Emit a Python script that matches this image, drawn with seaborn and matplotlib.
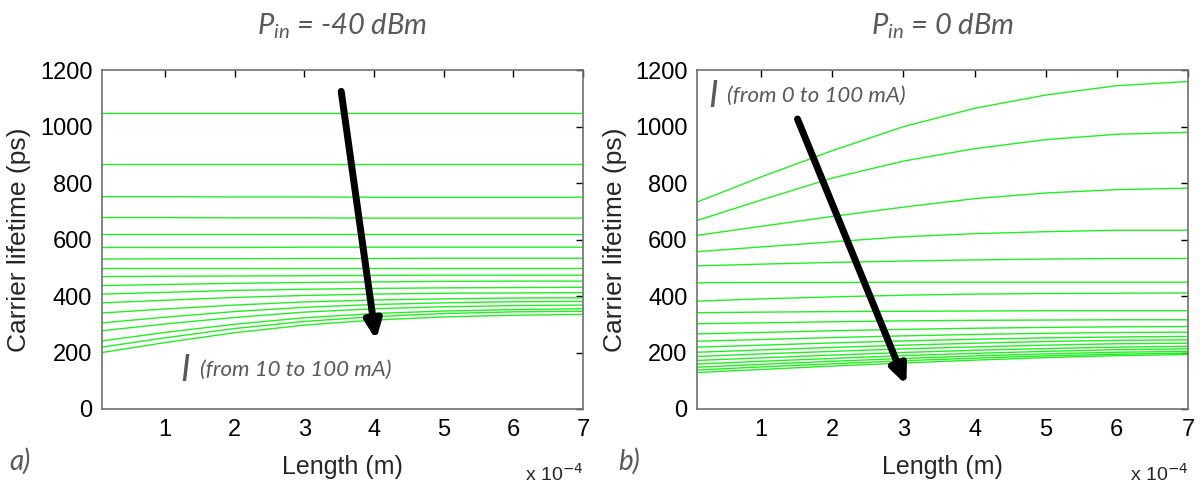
import numpy as np
import pandas as pd
import seaborn as sns
import matplotlib
matplotlib.use("Agg")
import matplotlib.pyplot as plt

# Length axis (in units of 1e-4 m)
length = [0.1, 1, 2, 3, 4, 5, 6, 7]

# Carrier lifetime (ps), P_in = -40 dBm, I from 10 to 100 mA
tau_low = [
    [1047, 1047, 1047, 1047, 1047, 1047, 1047, 1047],
    [867, 867, 867, 867, 867, 867, 867, 867],
    [752, 752, 751, 751, 750, 750, 750, 750],
    [678, 678, 677, 677, 676, 676, 676, 676],
    [618, 618, 618, 618, 618, 618, 618, 618],
    [572, 572, 572, 573, 573, 573, 573, 573],
    [531, 532, 532, 533, 533, 534, 534, 534],
    [500, 500, 500, 500, 500, 500, 500, 500],
    [469, 470, 471, 472, 473, 474, 474, 474],
    [437, 441, 445, 448, 450, 452, 453, 453],
    [407, 413, 420, 424, 427, 429, 430, 431],
    [376, 385, 395, 402, 407, 410, 411, 412],
    [340, 354, 368, 379, 386, 390, 393, 394],
    [305, 325, 345, 360, 370, 376, 380, 381],
    [277, 301, 324, 343, 355, 362, 366, 368],
    [241, 271, 300, 323, 338, 347, 352, 355],
    [219, 252, 285, 310, 327, 338, 344, 346],
    [200, 235, 270, 297, 315, 326, 332, 335],
]

# Carrier lifetime (ps), P_in = 0 dBm, I from 0 to 100 mA
tau_high = [
    [733, 822, 915, 1000, 1065, 1112, 1145, 1160],
    [668, 740, 818, 878, 922, 954, 973, 980],
    [615, 647, 682, 715, 745, 765, 777, 782],
    [557, 574, 592, 610, 621, 628, 633, 633],
    [507, 513, 519, 524, 528, 531, 533, 533],
    [447, 448, 448, 449, 449, 449, 449, 449],
    [382, 390, 397, 403, 407, 409, 410, 411],
    [341, 343, 345, 346, 347, 348, 348, 348],
    [302, 305, 309, 312, 314, 315, 316, 316],
    [266, 271, 277, 282, 286, 289, 291, 292],
    [240, 246, 253, 259, 264, 268, 271, 272],
    [219, 226, 234, 241, 247, 252, 255, 257],
    [201, 209, 218, 226, 233, 239, 243, 245],
    [186, 195, 204, 213, 220, 226, 231, 233],
    [172, 181, 191, 200, 208, 214, 219, 222],
    [159, 169, 179, 189, 197, 204, 210, 213],
    [148, 158, 169, 179, 188, 195, 201, 204],
    [138, 149, 160, 171, 180, 188, 194, 198],
    [129, 140, 152, 163, 173, 182, 189, 193],
]

titles = ["-40 dBm", "0 dBm"]
notes = ["(from 10 to 100 mA)", "(from 0 to 100 mA)"]
panel_tags = ["a)", "b)"]


def to_frame(curves):
    rows = []
    for i, c in enumerate(curves):
        for x, y in zip(length, c):
            rows.append({"length": x, "tau": y, "line": i})
    return pd.DataFrame(rows)


sns.set_theme(style="white")
plt.rcParams["font.family"] = ["Liberation Sans", "DejaVu Sans"]
plt.rcParams["mathtext.fontset"] = "custom"
plt.rcParams["mathtext.rm"] = "Lato"
plt.rcParams["mathtext.it"] = "Lato:italic"

fig = plt.figure(figsize=(12, 4.84), dpi=100)
ax1 = fig.add_axes([0.085, 0.155, 0.401, 0.700])
ax2 = fig.add_axes([0.581, 0.155, 0.409, 0.700])

gray = "#595959"
note_font = ["Lato"]

for ax, curves, title, note, tag in zip([ax1, ax2], [tau_low, tau_high], titles, notes, panel_tags):
    sns.lineplot(data=to_frame(curves), x="length", y="tau", units="line",
                 estimator=None, color="#22ee22", linewidth=1.0, ax=ax)
    ax.set_xlim(0.1, 7)
    ax.set_ylim(0, 1200)
    ax.set_xticks(range(1, 8))
    ax.set_yticks(range(0, 1201, 200))
    ax.tick_params(direction="in", length=5, width=1, top=True, right=True,
                   labelsize=17, pad=7, colors="black")
    for s in ax.spines.values():
        s.set_color("#707070")
        s.set_linewidth(1.2)
        s.set_visible(True)
    ax.set_xlabel("Length (m)", fontsize=18, labelpad=10)
    ax.set_ylabel("Carrier lifetime (ps)", fontsize=19, labelpad=6)
    ax.set_title(r"$P_{in}$ = " + title, fontsize=21, color=gray, style="italic",
                 family=note_font, pad=26)
    ax.text(1.0, -0.19, r"x 10$^{-4}$", transform=ax.transAxes, ha="right",
            va="center", fontsize=14, family=["Liberation Sans"],
            math_fontfamily="dejavusans")

# annotation text and arrows
ax1.text(1.22, 138, "I", fontsize=26, color=gray, style="italic",
         family=note_font, va="center")
ax1.text(1.50, 138, notes[0], fontsize=16, color=gray, style="italic",
         family=note_font, va="center")
ax1.annotate("", xy=(4.03, 244), xytext=(3.53, 1125),
             arrowprops=dict(arrowstyle="-|>,head_width=0.4,head_length=0.9",
                             lw=5, color="black", shrinkA=0, shrinkB=0))

ax2.text(0.25, 1108, "I", fontsize=26, color=gray, style="italic",
         family=note_font, va="center")
ax2.text(0.52, 1108, notes[1], fontsize=16, color=gray, style="italic",
         family=note_font, va="center")
ax2.annotate("", xy=(3.04, 85), xytext=(1.51, 1027),
             arrowprops=dict(arrowstyle="-|>,head_width=0.4,head_length=0.9",
                             lw=5, color="black", shrinkA=0, shrinkB=0))

fig.text(0.008, 0.03, panel_tags[0], fontsize=20, color=gray, style="italic",
         family=note_font)
fig.text(0.515, 0.03, panel_tags[1], fontsize=20, color=gray, style="italic",
         family=note_font)

fig.savefig("out.png", dpi=100)
